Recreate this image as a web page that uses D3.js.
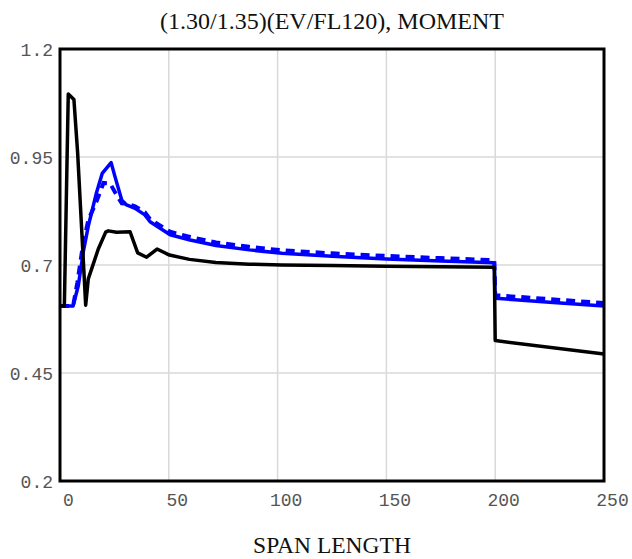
<!DOCTYPE html>
<html>
<head>
<meta charset="utf-8">
<script src="https://cdn.jsdelivr.net/npm/d3@7"></script>
<style>
  html, body { margin: 0; padding: 0; background: #fff; }
  svg { display: block; }
</style>
</head>
<body>
<svg id="chart" width="632" height="559"></svg>
<script>
// Span lengths (ft) and moment ratios for each series
const blackX = [0, 2, 3.8, 6.4, 8.1, 11.8, 13, 17.6, 21, 22.2, 26, 32.2, 35.7, 39.8, 44.6, 50.3, 59.5, 71.6, 87, 102, 125, 150, 175, 199.6, 200, 250];
const blackY = [0.605, 0.605, 1.096, 1.083, 0.96, 0.607, 0.668, 0.737, 0.776, 0.779, 0.776, 0.777, 0.728, 0.718, 0.737, 0.723, 0.713, 0.706, 0.702, 0.700, 0.699, 0.697, 0.696, 0.695, 0.525, 0.494];

const solidX = [0, 6, 8.4, 10.7, 13, 16.8, 19.4, 23.5, 25.3, 28.4, 30.6, 34.5, 39, 41.4, 50.6, 59.8, 71.7, 87, 102, 125, 150, 175, 199.6, 200, 225, 250];
const solidY = [0.605, 0.605, 0.652, 0.73, 0.79, 0.868, 0.912, 0.937, 0.904, 0.85, 0.839, 0.831, 0.816, 0.800, 0.770, 0.758, 0.745, 0.735, 0.727, 0.720, 0.714, 0.709, 0.705, 0.623, 0.614, 0.605];

const dashX = [0, 6, 8, 10.5, 13, 17, 20, 23, 26, 28.4, 30.6, 34.5, 39, 41.4, 50.6, 59.8, 71.7, 87, 102, 125, 150, 175, 199.6, 200, 225, 250];
const dashY = [0.605, 0.605, 0.66, 0.745, 0.804, 0.85, 0.89, 0.889, 0.862, 0.843, 0.842, 0.836, 0.822, 0.806, 0.777, 0.765, 0.752, 0.742, 0.734, 0.727, 0.721, 0.716, 0.711, 0.630, 0.621, 0.612];

const xTicks = [0, 50, 100, 150, 200, 250];
const yTicks = [0.2, 0.45, 0.7, 0.95, 1.2];
const yTickLabels = ["0.2", "0.45", "0.7", "0.95", "1.2"];

const svg = d3.select("#chart");
const pLeft = 60, pRight = 604, pTop = 49, pBottom = 481;

const x = d3.scaleLinear().domain([0, 250]).range([pLeft, pRight]);
const y = d3.scaleLinear().domain([0.2, 1.2]).range([pBottom, pTop]);

// grid lines
const grid = svg.append("g");
grid.selectAll("line.gx").data(xTicks.slice(1, -1)).join("line")
  .attr("class", "gx")
  .attr("x1", d => x(d)).attr("x2", d => x(d))
  .attr("y1", pTop).attr("y2", pBottom)
  .attr("stroke", "#d9d9d9").attr("stroke-width", 1.5);
grid.selectAll("line.gy").data(yTicks.slice(1, -1)).join("line")
  .attr("class", "gy")
  .attr("x1", pLeft).attr("x2", pRight)
  .attr("y1", d => y(d)).attr("y2", d => y(d))
  .attr("stroke", "#d9d9d9").attr("stroke-width", 1.5);

// axes (labels only, the frame draws the edges)
const xAxis = d3.axisBottom(x).tickValues(xTicks).tickSize(0).tickPadding(0).tickFormat(d3.format("d"));
const gx = svg.append("g").attr("transform", `translate(8,${pBottom + 12})`).call(xAxis);
gx.select(".domain").remove();
gx.selectAll("text")
  .attr("font-family", "'Liberation Mono', monospace")
  .attr("font-size", 18).attr("fill", "#555").attr("dy", "0.71em");

const yAxis = d3.axisLeft(y).tickValues(yTicks).tickSize(0).tickPadding(0)
  .tickFormat((d, i) => yTickLabels[i]);
const gy = svg.append("g").attr("transform", `translate(${pLeft - 7},1)`).call(yAxis);
gy.select(".domain").remove();
gy.selectAll("text")
  .attr("font-family", "'Liberation Mono', monospace")
  .attr("font-size", 18).attr("fill", "#555");

const line = d3.line().x(d => x(d[0])).y(d => y(d[1]));
const zip = (xs, ys) => xs.map((v, i) => [v, ys[i]]);

const plot = svg.append("g");
plot.append("path").datum(zip(solidX, solidY))
  .attr("d", line).attr("fill", "none")
  .attr("stroke", "#0000ff").attr("stroke-width", 3.5).attr("stroke-linejoin", "round");
plot.append("path").datum(zip(dashX, dashY))
  .attr("d", line).attr("fill", "none")
  .attr("stroke", "#0000ff").attr("stroke-width", 4).attr("stroke-dasharray", "9,6");
plot.append("path").datum(zip(blackX, blackY))
  .attr("d", line).attr("fill", "none")
  .attr("stroke", "#000").attr("stroke-width", 3.5).attr("stroke-linejoin", "round");

// frame
svg.append("rect")
  .attr("x", pLeft).attr("y", pTop)
  .attr("width", pRight - pLeft).attr("height", pBottom - pTop)
  .attr("fill", "none").attr("stroke", "#000").attr("stroke-width", 3);

// titles
svg.append("text")
  .attr("x", (pLeft + pRight) / 2).attr("y", 29)
  .attr("text-anchor", "middle")
  .attr("font-family", "'Liberation Serif', 'Times New Roman', serif")
  .attr("font-size", 24).attr("fill", "#111")
  .text("(1.30/1.35)(EV/FL120), MOMENT");

svg.append("text")
  .attr("x", (pLeft + pRight) / 2).attr("y", 553)
  .attr("text-anchor", "middle")
  .attr("font-family", "'Liberation Serif', 'Times New Roman', serif")
  .attr("font-size", 23.5).attr("fill", "#111")
  .text("SPAN LENGTH");
</script>
</body>
</html>
